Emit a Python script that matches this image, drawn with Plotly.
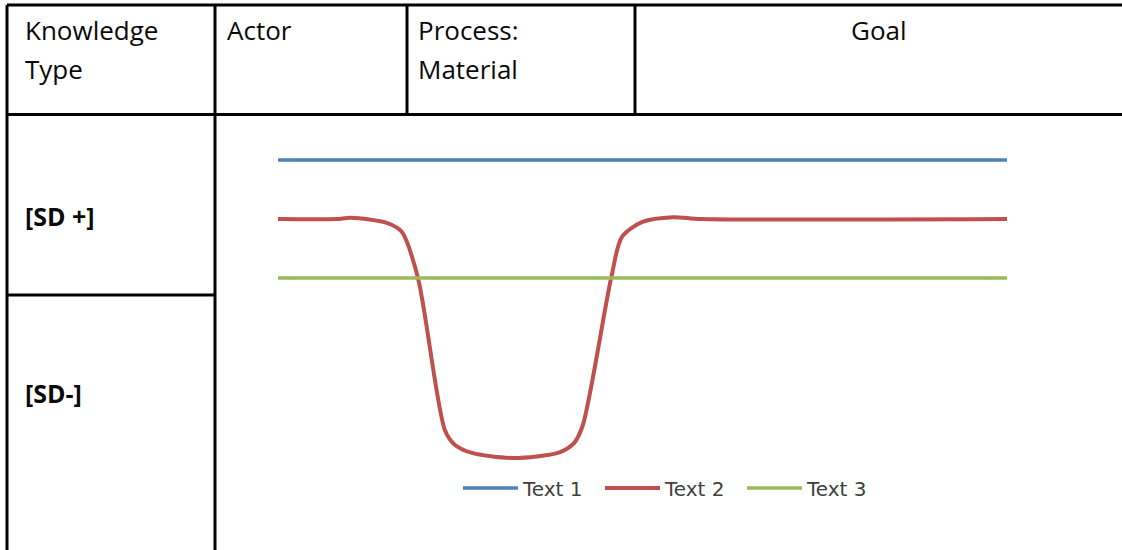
import plotly.graph_objects as go

# ---- series data -------------------------------------------------------
series_names = ["Text 1", "Text 2", "Text 3"]

text1_x = [0, 10]
text1_y = [3.0, 3.0]

text2_x = [0, 0.8, 1.0, 1.5, 1.7, 1.92, 2.29, 2.42, 2.65, 3.22, 3.85, 4.06, 4.18, 4.57, 4.72, 5.0, 5.42, 5.8, 10]
text2_y = [2.0, 2.0, 2.02, 1.93, 1.78, 1.0, -1.58, -1.82, -1.96, -2.05, -1.96, -1.8, -1.5, 1.0, 1.7, 1.95, 2.03, 2.0, 2.0]

text3_x = [0, 10]
text3_y = [1.0, 1.0]

# ---- table text --------------------------------------------------------
header_cells = ["Knowledge", "Type", "Actor", "Process:", "Material", "Goal"]
row_labels = ["[SD +]", "[SD-]"]

colors = ["#4F81BD", "#C0504D", "#9BBB59"]

W, H = 1122, 550

fig = go.Figure()
fig.add_trace(go.Scatter(x=text1_x, y=text1_y, mode="lines", name=series_names[0],
                         line=dict(color=colors[0], width=3.5)))
fig.add_trace(go.Scatter(x=text2_x, y=text2_y, mode="lines", name=series_names[1],
                         line=dict(color=colors[1], width=4, shape="spline", smoothing=0.8)))
fig.add_trace(go.Scatter(x=text3_x, y=text3_y, mode="lines", name=series_names[2],
                         line=dict(color=colors[2], width=3.5)))


def px(x):
    return x / W


def py(y):
    return 1 - y / H


# table grid lines (paper coordinates, margins are zero)
line_style = dict(color="black", width=3)
grid = [
    (7, 5, W, 5),          # top border
    (7, 114.5, W, 114.5),  # header bottom
    (7, 5, 7, H),          # left border
    (215, 5, 215, H),      # first column separator
    (407, 5, 407, 114.5),
    (635, 5, 635, 114.5),
    (7, 295, 215, 295),    # split between the two row labels
]
for x0, y0, x1, y1 in grid:
    fig.add_shape(type="line", xref="paper", yref="paper",
                  x0=px(x0), y0=py(y0), x1=px(x1), y1=py(y1), line=line_style)

head_font = dict(family="Open Sans", size=26, color="#0a0a0a")
head_pos = [(23, 30, "left"), (23, 69, "left"), (225, 30, "left"),
            (416, 30, "left"), (416, 69, "left"), (879, 30, "center")]
for text, (x, y, anchor) in zip(header_cells, head_pos):
    fig.add_annotation(text=text, xref="paper", yref="paper", x=px(x), y=py(y),
                       xanchor=anchor, yanchor="middle", showarrow=False, font=head_font)

row_font = dict(family="Open Sans", size=25, color="#0a0a0a", weight="bold")
for text, y in zip(row_labels, [216, 393]):
    fig.add_annotation(text=text, xref="paper", yref="paper", x=px(23), y=py(y),
                       xanchor="left", yanchor="middle", showarrow=False, font=row_font)

# data axes mapped so x 0..10 spans 278..1007 px and y 1..3 spans 278..160 px
x_span = 10 * W / (1007 - 278)
x0r = -278 / W * x_span
y_span = 2 * H / (278 - 160)
y1r = 1 + 278 / H * y_span

fig.update_layout(
    width=W, height=H,
    margin=dict(l=0, r=0, t=0, b=0),
    paper_bgcolor="white", plot_bgcolor="white",
    xaxis=dict(range=[x0r, x0r + x_span], visible=False, domain=[0, 1]),
    yaxis=dict(range=[y1r - y_span, y1r], visible=False, domain=[0, 1]),
    showlegend=True,
    legend=dict(orientation="h", x=px(671), y=py(488), xanchor="center", yanchor="middle",
                font=dict(family="DejaVu Sans", size=20, color="#404040"),
                itemwidth=55, entrywidth=72, entrywidthmode="pixels",
                bgcolor="rgba(0,0,0,0)", tracegroupgap=0),
)

fig.write_html("out.html")
